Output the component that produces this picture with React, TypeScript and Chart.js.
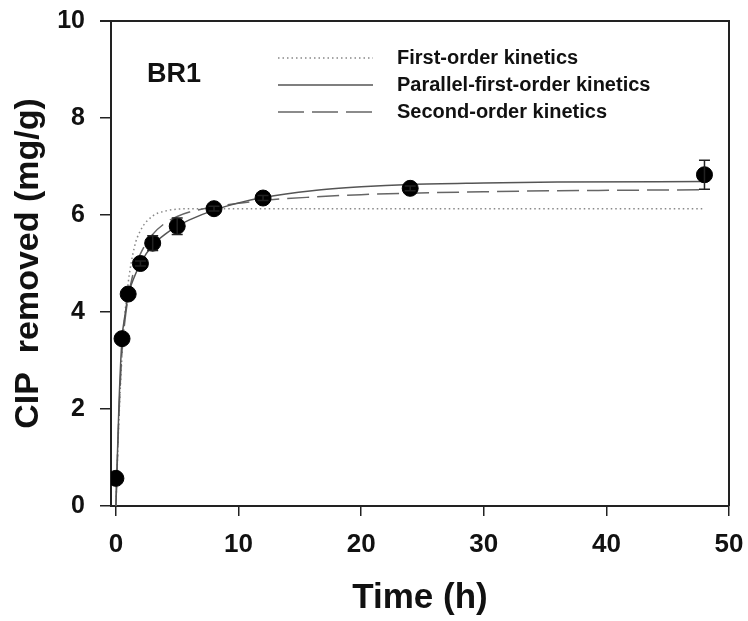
import React, { useEffect, useRef } from "react";
import { Chart, registerables } from "chart.js";

Chart.register(...registerables);

const FONT = "'Liberation Sans', Arial, sans-serif";

// Measured data
const times = [0, 0.5, 1, 2, 3, 5, 8, 12, 24, 48];
const removed = [0.57, 3.45, 4.37, 5.0, 5.42, 5.77, 6.13, 6.35, 6.55, 6.83];
const errors = [0, 0, 0, 0.05, 0.15, 0.17, 0.05, 0.05, 0.05, 0.3];

// Model curves
const curveT = [0, 0.25, 0.5, 0.75, 1, 1.5, 2, 3, 4, 5, 6, 8, 10, 12, 16, 20, 24, 30, 36, 48];
const firstOrder = [0, 1.8, 3.1, 3.99, 4.6, 5.33, 5.68, 5.98, 6.08, 6.12, 6.13, 6.13, 6.13, 6.13, 6.13, 6.13, 6.13, 6.13, 6.13, 6.13];
const parallelFirst = [0, 2.1, 3.45, 3.95, 4.35, 4.72, 5.0, 5.38, 5.6, 5.77, 5.9, 6.1, 6.25, 6.36, 6.5, 6.58, 6.63, 6.66, 6.68, 6.69];
const secondOrder = [0, 1.9, 3.2, 3.85, 4.3, 4.88, 5.2, 5.6, 5.83, 5.97, 6.06, 6.17, 6.24, 6.3, 6.37, 6.42, 6.45, 6.48, 6.5, 6.52];

const xTicks = [0, 10, 20, 30, 40, 50];
const yTicks = [0, 2, 4, 6, 8, 10];

const legendLabels = ["First-order kinetics", "Parallel-first-order kinetics", "Second-order kinetics"];
const panelLabel = "BR1";

const toXY = (xs: number[], ys: number[]) => xs.map((x, i) => ({ x, y: ys[i] }));

const zeroPad = (s: any) => {
  s.paddingTop = 0;
  s.paddingRight = 0;
  s.paddingLeft = 0;
  s.paddingBottom = 0;
};

export default function App() {
  const ref = useRef<HTMLCanvasElement | null>(null);

  useEffect(() => {
    document.body.style.margin = "0";
    const canvas = ref.current;
    if (!canvas) return;

    const framePlugin = {
      id: "frameAndExtras",
      afterDatasetsDraw(chart: any) {
        const { ctx, chartArea, scales } = chart;
        const xs = scales.x;
        const ys = scales.y;
        ctx.save();
        // error bars
        ctx.strokeStyle = "#222";
        ctx.lineWidth = 1.5;
        times.forEach((t, i) => {
          const e = errors[i];
          if (!e) return;
          const px = xs.getPixelForValue(t);
          const top = ys.getPixelForValue(removed[i] + e);
          const bot = ys.getPixelForValue(removed[i] - e);
          ctx.beginPath();
          ctx.moveTo(px, top);
          ctx.lineTo(px, bot);
          ctx.moveTo(px - 5.5, top);
          ctx.lineTo(px + 5.5, top);
          ctx.moveTo(px - 5.5, bot);
          ctx.lineTo(px + 5.5, bot);
          ctx.stroke();
        });
        // top & right frame
        ctx.strokeStyle = "#222";
        ctx.lineWidth = 2;
        ctx.beginPath();
        ctx.moveTo(chartArea.left - 11, chartArea.top);
        ctx.lineTo(chartArea.right, chartArea.top);
        ctx.lineTo(chartArea.right, chartArea.bottom);
        ctx.stroke();
        // panel label
        ctx.fillStyle = "#111";
        ctx.font = `bold 27px ${FONT}`;
        ctx.textBaseline = "middle";
        ctx.textAlign = "left";
        ctx.fillText(panelLabel, 147, 75);
        // legend
        const styles = [
          { color: "#888", dash: [1.5, 3] },
          { color: "#555", dash: [] as number[] },
          { color: "#666", dash: [26, 8] },
        ];
        const rowsY = [58, 85, 112];
        legendLabels.forEach((lab, i) => {
          ctx.strokeStyle = styles[i].color;
          ctx.lineWidth = 1.5;
          ctx.setLineDash(styles[i].dash);
          ctx.beginPath();
          ctx.moveTo(278, rowsY[i]);
          ctx.lineTo(373, rowsY[i]);
          ctx.stroke();
          ctx.setLineDash([]);
          ctx.fillStyle = "#111";
          ctx.font = `bold 20px ${FONT}`;
          ctx.fillText(lab, 397, rowsY[i]);
        });
        ctx.restore();
      },
    };

    const chart = new Chart(canvas, {
      type: "scatter",
      data: {
        datasets: [
          {
            label: "Data",
            data: toXY(times, removed),
            pointRadius: 8,
            pointHoverRadius: 8,
            pointBackgroundColor: "#000",
            pointBorderColor: "#000",
            showLine: false,
          },
          {
            label: legendLabels[1],
            data: toXY(curveT, parallelFirst),
            showLine: true,
            pointRadius: 0,
            borderColor: "#555",
            borderWidth: 1.5,
            cubicInterpolationMode: "monotone",
          },
          {
            label: legendLabels[2],
            data: toXY(curveT, secondOrder),
            showLine: true,
            pointRadius: 0,
            borderColor: "#666",
            borderWidth: 1.5,
            borderDash: [22, 8],
            cubicInterpolationMode: "monotone",
          },
          {
            label: legendLabels[0],
            data: toXY(curveT, firstOrder),
            showLine: true,
            pointRadius: 0,
            borderColor: "#888",
            borderWidth: 1.5,
            borderDash: [1.5, 3],
            cubicInterpolationMode: "monotone",
          },
        ],
      } as any,
      options: {
        animation: false,
        responsive: false,
        layout: { padding: { top: 21, right: 19, left: 0, bottom: 0 } },
        plugins: { legend: { display: false }, tooltip: { enabled: false } },
        scales: {
          x: {
            type: "linear",
            min: -0.4,
            max: 50,
            afterFit: (s: any) => {
              s.height = 115;
              zeroPad(s);
            },
            afterBuildTicks: (s: any) => {
              s.ticks = xTicks.map((v) => ({ value: v }));
            },
            ticks: {
              color: "#111",
              font: { family: FONT, size: 26, weight: "bold" },
              padding: 13,
              maxRotation: 0,
            },
            grid: {
              display: true,
              drawOnChartArea: false,
              drawTicks: true,
              tickLength: 10,
              color: "#222",
              lineWidth: 1.5,
            },
            border: { display: true, color: "#222", width: 2 },
            title: {
              display: true,
              text: "Time (h)",
              color: "#111",
              font: { family: FONT, size: 35, weight: "bold" },
              padding: { top: 0, bottom: 2 },
            },
          },
          y: {
            type: "linear",
            min: 0,
            max: 10,
            afterFit: (s: any) => {
              s.width = 111;
              zeroPad(s);
            },
            afterBuildTicks: (s: any) => {
              s.ticks = yTicks.map((v) => ({ value: v }));
            },
            ticks: {
              color: "#111",
              font: { family: FONT, size: 25, weight: "bold" },
              padding: 15,
            },
            grid: {
              display: true,
              drawOnChartArea: false,
              drawTicks: true,
              tickLength: 11,
              color: "#222",
              lineWidth: 1.5,
            },
            border: { display: true, color: "#222", width: 2 },
            title: {
              display: true,
              text: "CIP  removed (mg/g)",
              color: "#111",
              font: { family: FONT, size: 34, weight: "bold" },
              padding: { top: 8, bottom: 0 },
            },
          },
        },
      } as any,
      plugins: [framePlugin],
    });

    return () => chart.destroy();
  }, []);

  return (
    <div style={{ width: 748, height: 621 }}>
      <canvas ref={ref} width={748} height={621} />
    </div>
  );
}
